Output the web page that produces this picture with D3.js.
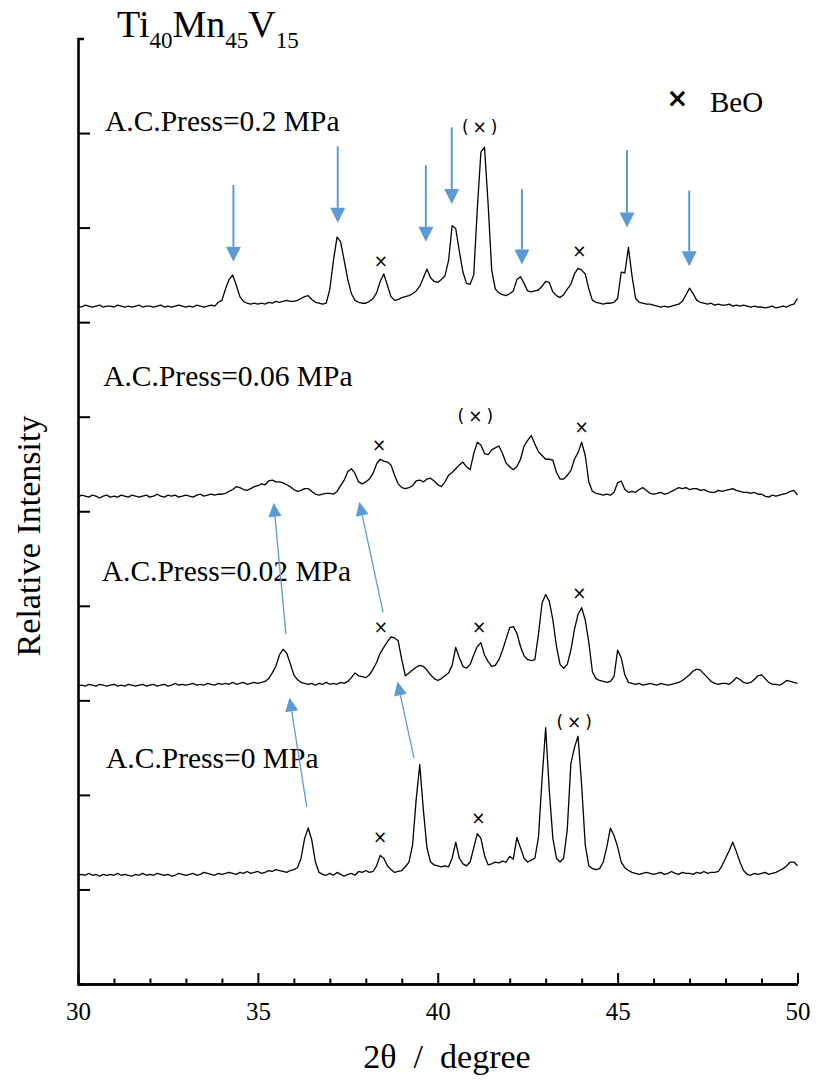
<!DOCTYPE html>
<html>
<head>
<meta charset="utf-8">
<script src="https://cdn.jsdelivr.net/npm/d3@7"></script>
<style>
  body { margin: 0; background: #fff; }
</style>
</head>
<body>
<script>

// 2theta sampling grid, 30.0 .. 50.0 by 0.1 degree
var angles = d3.range(0, 201).map(function(i) { return +(30 + i * 0.1).toFixed(1); });

var samples = ["A.C.Press=0 MPa", "A.C.Press=0.02 MPa", "A.C.Press=0.06 MPa", "A.C.Press=0.2 MPa"];
var offsets = [105, 305, 505, 705];

var press0 = [
  10,11,10,12,10,11,9,11,10,11,   10,12,10,11,10,9,11,10,12,10,
  11,10,12,11,10,11,9,10,12,11,   10,11,12,10,11,13,12,11,10,12,
  11,12,13,12,11,13,12,14,12,13,  14,12,13,15,14,16,15,14,13,15,
  16,18,28,49,60,47,24,13,11,10,  12,10,13,11,9,11,12,10,14,13,
  15,13,14,20,31,28,20,16,13,14,  15,19,24,42,90,127,79,39,24,21,
  20,19,20,19,28,45,28,22,20,24,  39,54,49,31,21,22,24,23,25,24,
  30,27,50,39,28,24,26,28,50,112, 166,100,49,28,24,28,58,128,145,157,
  105,42,20,17,16,17,24,40,60,52, 40,24,18,15,13,12,11,12,13,12,
  11,12,13,11,12,14,12,11,13,12,  12,11,13,12,14,12,13,13,14,20,
  28,36,45,35,24,15,11,10,12,11,  12,13,11,12,13,15,17,20,24,24,
  20
];
var press002 = [
  10,11,10,12,11,10,12,11,10,11,  12,10,11,10,12,11,10,11,12,10,
  11,12,10,11,12,10,11,13,11,12,  11,12,13,11,12,11,13,12,11,13,
  12,13,12,14,12,13,14,12,13,14,  13,14,15,18,24,31,43,49,45,34,
  22,17,14,13,12,13,11,13,12,14,  12,13,12,14,13,15,19,24,21,20,
  19,22,28,35,45,51,57,62,61,58,  38,21,24,27,30,32,31,27,22,18,
  16,18,21,24,32,51,40,31,29,33,  43,52,56,43,36,31,32,38,48,60,
  72,73,66,52,42,38,37,38,65,98,  107,100,80,52,33,29,33,48,70,86,
  93,80,56,25,18,16,15,14,15,20,  48,40,22,14,13,12,13,11,12,13,
  12,11,13,12,11,12,13,14,16,19,  22,26,28,27,23,19,15,13,12,13,
  13,12,15,19,17,14,13,14,17,21,  22,18,14,12,12,11,13,16,15,14,
  13
];
var press006 = [
  10,12,11,10,12,11,9,11,12,10,   11,10,12,11,10,12,11,10,11,12,
  10,11,13,11,10,12,11,12,10,11,  12,11,10,12,13,11,12,13,12,13,
  13,14,16,18,21,20,18,17,19,21,  22,24,23,27,28,26,26,25,23,21,
  18,16,17,19,19,16,13,12,13,14,  14,13,16,22,28,37,40,35,26,24,
  26,29,35,45,50,48,47,44,33,24,  20,19,20,22,27,28,26,29,30,27,
  23,21,26,33,36,40,44,47,42,39,  56,68,65,56,55,60,62,64,56,46,
  42,39,42,50,64,70,75,66,58,54,  50,50,49,36,29,29,33,38,50,57,
  68,54,26,16,14,13,12,13,12,15,  25,27,18,15,16,15,18,20,17,14,
  13,14,15,13,14,16,18,20,19,20,  18,19,19,17,18,16,15,15,17,16,
  17,18,19,17,16,15,15,14,15,13,  13,11,10,12,11,12,13,14,16,17,
  12
];
var press02 = [
  12,11,13,12,11,12,13,11,12,12,  11,13,12,11,12,11,12,13,11,12,
  12,11,12,13,11,12,11,12,13,12,  11,12,11,13,12,11,12,13,12,16,
  18,30,40,45,34,22,17,15,14,15,  14,15,14,16,15,17,16,17,18,17,
  17,18,20,22,23,19,16,15,14,15,  30,60,85,80,60,40,25,18,16,15,
  15,17,20,26,38,46,34,22,18,19,  21,22,23,25,28,33,42,51,42,38,
  37,40,44,60,97,94,70,48,36,35,  45,115,175,180,120,50,30,26,24,23,
  25,28,40,43,36,28,27,28,29,33,  38,37,27,23,21,24,30,35,46,52,
  50,46,30,18,16,15,14,15,15,16,  20,48,47,74,44,20,16,15,14,14,
  13,12,11,12,11,12,13,14,17,24,  31,25,18,16,15,14,15,13,14,13,
  13,14,12,13,12,13,12,11,12,11,  11,10,11,12,10,11,12,11,13,14,
  20
];
var patterns = [press0, press002, press006, press02];

// sample labels: [2theta, level]
var labelAt = [[30.78, 228], [30.66, 426], [30.7, 632], [30.75, 902]];

// BeO marks: [2theta, level, bracketed]
var beoMarks = [
  [38.4, 155, false], [41.13, 175, false], [43.85, 277, true],
  [38.42, 377, false], [41.15, 377, false], [43.94, 414, false],
  [38.37, 570, false], [41.1, 601, true], [44.0, 589, false],
  [38.42, 765, false], [41.22, 906, true], [43.94, 775, false]
];

// new-phase arrows on 0.2 MPa: [2theta, tail level, tip level]
var downArrows = [
  [34.32, 845, 764], [37.22, 886, 805], [39.67, 866, 785], [40.39, 906, 825],
  [42.34, 841, 761], [45.26, 882, 800], [46.99, 839, 759]
];
// peak shift arrows: [tail 2theta, tail level, tip 2theta, tip level]
var shiftArrows = [
  [36.36, 187, 35.88, 303], [39.34, 239, 38.88, 320],
  [35.78, 370, 35.44, 509], [38.48, 393, 37.82, 510]
];

var serif = "'Liberation Serif', 'Times New Roman', serif";
var sans = "'DejaVu Sans', sans-serif";

var W = 816, H = 1082;
var svg = d3.select("body").append("svg")
  .attr("width", W)
  .attr("height", H);

var x = d3.scaleLinear().domain([30, 50]).range([78, 797.5]);
var y = d3.scaleLinear().domain([0, 1000]).range([984, 38.5]);

// axes
var yAxis = svg.append("g")
  .attr("transform", "translate(78,0)")
  .call(d3.axisLeft(y).tickValues(d3.range(100, 1000, 100)).tickSize(-12).tickSizeOuter(-6).tickFormat(""));

var xMinor = svg.append("g")
  .attr("transform", "translate(0,984)")
  .call(d3.axisBottom(x).tickValues(d3.range(31, 50).filter(function(d) { return d % 5 != 0; }))
    .tickSize(-5.5).tickSizeOuter(0).tickFormat(""));

var xAxis = svg.append("g")
  .attr("transform", "translate(0,984)")
  .call(d3.axisBottom(x).tickValues([30, 35, 40, 45, 50]).tickSize(-11).tickSizeOuter(0).tickPadding(18));

svg.selectAll(".domain").attr("stroke", "#000").attr("stroke-width", 2.6);
svg.selectAll(".tick line").attr("stroke", "#000").attr("stroke-width", 2);
xAxis.selectAll("text")
  .style("font-family", serif)
  .style("font-size", "25px")
  .attr("fill", "#000");

// patterns
var line = d3.line()
  .x(function(d) { return x(d[0]); })
  .y(function(d) { return y(d[1]); });

patterns.forEach(function(p, k) {
  var pts = angles.map(function(a, i) { return [a, offsets[k] + p[i]]; });
  svg.append("path")
    .attr("d", line(pts))
    .attr("fill", "none")
    .attr("stroke", "#000")
    .attr("stroke-width", 1.3)
    .attr("stroke-linejoin", "round");
});

// sample labels
svg.selectAll(".lab")
  .data(samples)
  .enter()
  .append("text")
  .attr("x", function(d, i) { return x(labelAt[i][0]); })
  .attr("y", function(d, i) { return y(labelAt[i][1]); })
  .style("font-family", serif)
  .style("font-size", "29.5px")
  .text(function(d) { return d; });

// BeO marks
svg.selectAll(".beo")
  .data(beoMarks)
  .enter()
  .append("text")
  .attr("x", function(d) { return x(d[0]); })
  .attr("y", function(d) { return y(d[1]); })
  .attr("dy", "0.35em")
  .attr("text-anchor", "middle")
  .style("font-family", sans)
  .style("letter-spacing", function(d) { return d[2] ? "4px" : "0px"; })
  .style("font-size", "17px")
  .text(function(d) { return d[2] ? "(×)" : "×"; });

// arrows
var blue = "#5b9bd5";
function arrow(x1, y1, x2, y2, len, half, width) {
  var dx = x2 - x1, dy = y2 - y1, l = Math.sqrt(dx * dx + dy * dy);
  var ux = dx / l, uy = dy / l;
  var bx = x2 - ux * len, by = y2 - uy * len;
  svg.append("line")
    .attr("x1", x1).attr("y1", y1).attr("x2", bx).attr("y2", by)
    .attr("stroke", blue).attr("stroke-width", width);
  svg.append("path")
    .attr("d", "M" + x2 + "," + y2 + "L" + (bx - uy * half) + "," + (by + ux * half) +
      "L" + (bx + uy * half) + "," + (by - ux * half) + "Z")
    .attr("fill", blue);
}
downArrows.forEach(function(a) {
  arrow(x(a[0]), y(a[1]), x(a[0]), y(a[2]), 15, 7.5, 2);
});
shiftArrows.forEach(function(a) {
  arrow(x(a[0]), y(a[1]), x(a[2]), y(a[3]), 14, 6.5, 1.3);
});

// title
var title = svg.append("text")
  .attr("x", 117)
  .attr("y", 37)
  .style("font-family", serif)
  .style("font-size", "38px");
title.append("tspan").text("Ti");
title.append("tspan").style("font-size", "23px").attr("dy", 11).text("40");
title.append("tspan").attr("dy", -11).text("Mn");
title.append("tspan").style("font-size", "23px").attr("dy", 11).text("45");
title.append("tspan").attr("dy", -11).text("V");
title.append("tspan").style("font-size", "23px").attr("dy", 11).text("15");

// legend
svg.append("text")
  .attr("x", 677.5)
  .attr("y", 98)
  .attr("dy", "0.35em")
  .attr("text-anchor", "middle")
  .style("font-family", sans)
  .style("font-weight", "bold")
  .style("font-size", "26px")
  .text("×");
svg.append("text")
  .attr("x", 710)
  .attr("y", 112)
  .style("font-family", serif)
  .style("font-size", "29px")
  .text("BeO");

// axis titles
svg.append("text")
  .attr("transform", "translate(40,536) rotate(-90)")
  .attr("text-anchor", "middle")
  .style("font-family", serif)
  .style("font-size", "34px")
  .text("Relative Intensity");

svg.append("text")
  .attr("x", 447)
  .attr("y", 1068)
  .attr("text-anchor", "middle")
  .style("font-family", serif)
  .style("font-size", "34px")
  .style("white-space", "pre")
  .text("2θ  /  degree");

</script>
</body>
</html>
